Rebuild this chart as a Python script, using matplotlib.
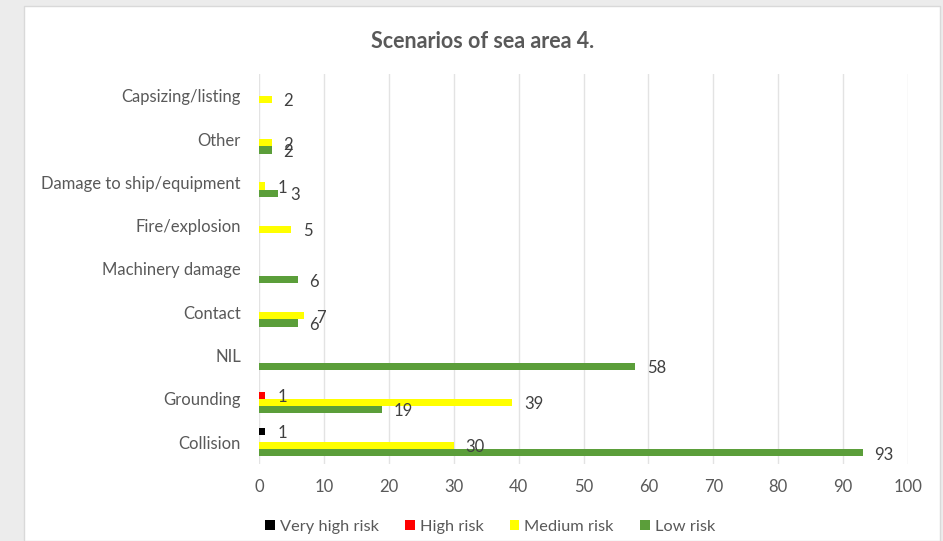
import numpy as np
import matplotlib.pyplot as plt
from matplotlib.patches import Rectangle

# categories from bottom to top, as drawn
categories = ['Collision', 'Grounding', 'NIL', 'Contact', 'Machinery damage',
              'Fire/explosion', 'Damage to ship/equipment', 'Other', 'Capsizing/listing']
very_high = [1, 0, 0, 0, 0, 0, 0, 0, 0]
high = [0, 1, 0, 0, 0, 0, 0, 0, 0]
medium = [30, 39, 0, 7, 0, 5, 1, 2, 2]
low = [93, 19, 58, 6, 6, 0, 3, 2, 0]
series_names = ['Very high risk', 'High risk', 'Medium risk', 'Low risk']
series_colors = ['#000000', '#ff0000', '#ffff00', '#5b9e3a']
x_ticks = [0, 10, 20, 30, 40, 50, 60, 70, 80, 90, 100]

plt.rcParams['font.family'] = ['Lato', 'DejaVu Sans']

fig = plt.figure(figsize=(9.43, 5.41), dpi=100)
fig.patch.set_facecolor('#ececec')
# white chart panel inside the gray slide frame
fig.patches.append(Rectangle((24 / 943, 0), 1 - 27 / 943, 1 - 6 / 541,
                             transform=fig.transFigure, facecolor='white',
                             edgecolor='#d9d9d9', lw=1.0, zorder=-5))

ax = fig.add_axes([259 / 943, 1 - 463.7 / 541, 649 / 943, 389.4 / 541])
ax.set_facecolor('none')

y = np.arange(len(categories))
h = 0.166
offsets = [1.5 * h, 0.5 * h, -0.5 * h, -1.5 * h]
all_series = [very_high, high, medium, low]

for vals, name, col, off in zip(all_series, series_names, series_colors, offsets):
    vals = np.array(vals, dtype=float)
    ax.barh(y + off, vals, height=h, color=col, label=name, zorder=3)
    for yi, v in zip(y, vals):
        if v > 0:
            ax.text(v + 1.8, yi + off - 0.04, f'{v:g}', va='center', ha='left',
                    fontsize=12, color='#404040', zorder=4)

ax.set_xlim(0, 100)
ax.set_ylim(-0.5, len(categories) - 0.5)
ax.set_xticks(x_ticks)
ax.set_yticks(y)
ax.set_yticklabels(categories)
ax.tick_params(axis='both', length=0, labelsize=12, labelcolor='#595959')
ax.tick_params(axis='y', pad=13)
ax.tick_params(axis='x', pad=11)
ax.grid(axis='x', color='#e3e3e3', lw=1.0, zorder=0)
for s in ax.spines.values():
    s.set_visible(False)

fig.text(483 / 943, 1 - 41 / 541, 'Scenarios of sea area 4.', ha='center', va='center',
         fontsize=15.5, fontweight='bold', color='#595959')

fig.legend(loc='center', bbox_to_anchor=(490 / 943, 1 - 527 / 541), ncol=4,
           frameon=False, fontsize=11.8, labelcolor='#595959',
           handlelength=0.6, handleheight=0.6, handletextpad=0.3, columnspacing=1.6)

fig.savefig('out.png', dpi=100, facecolor=fig.get_facecolor())
